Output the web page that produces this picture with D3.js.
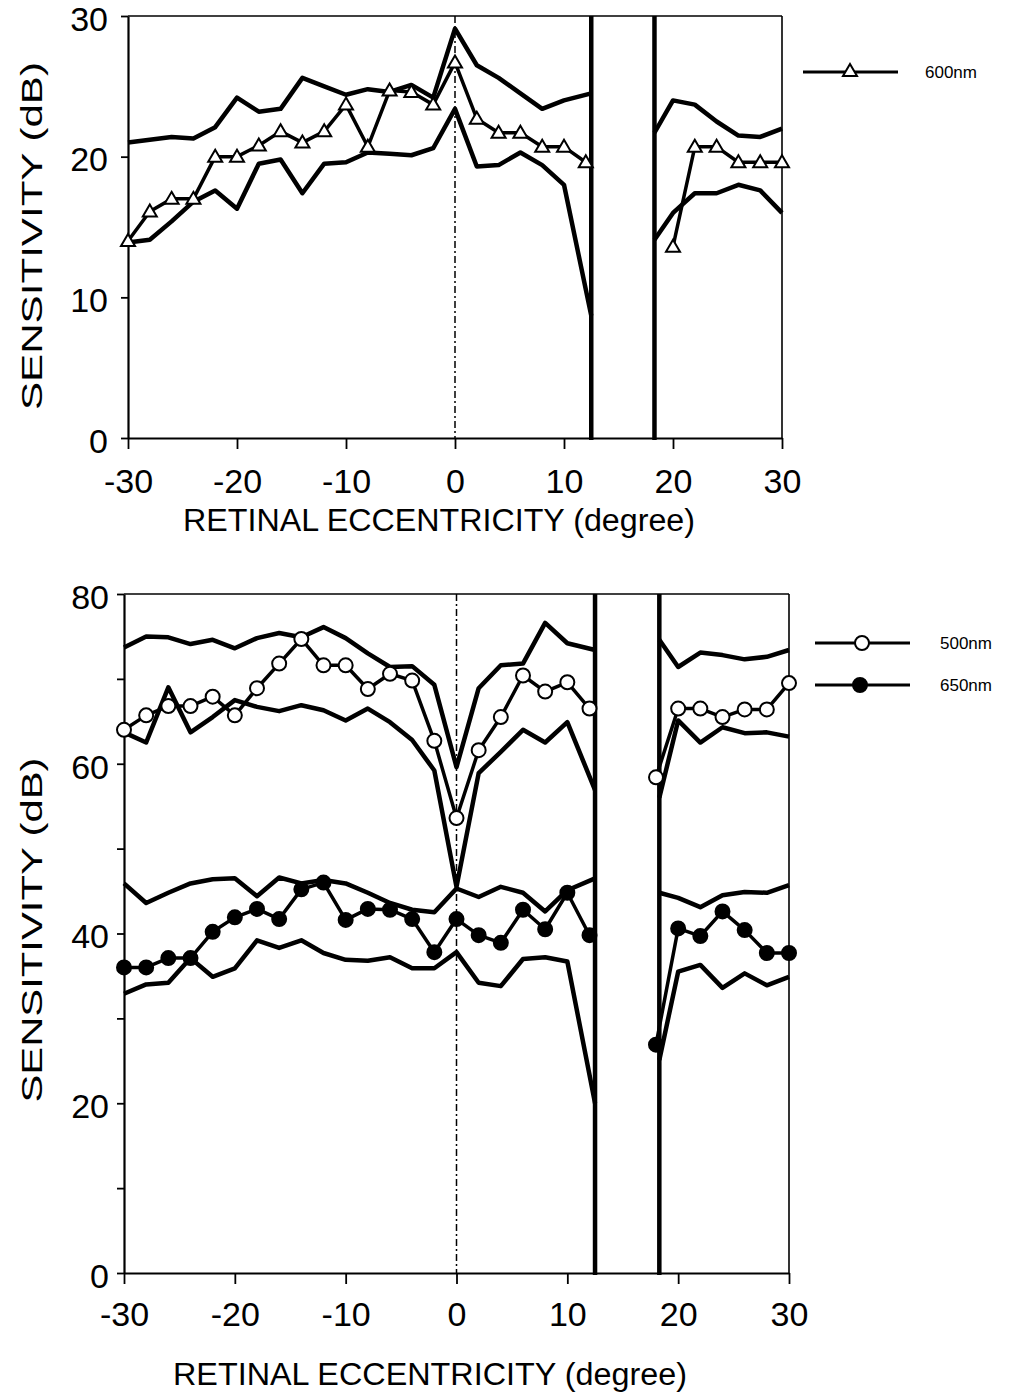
<!DOCTYPE html>
<html>
<head>
<meta charset="utf-8">
<script src="https://cdn.jsdelivr.net/npm/d3@7"></script>
<style>
  html, body { margin: 0; padding: 0; background: #fff; }
  svg { display: block; }
  text { font-family: "Liberation Sans", Arial, sans-serif; fill: #000; }
</style>
</head>
<body>
<svg id="chart" width="1013" height="1395"></svg>
<script>
// ---------------- DATA ----------------
const xTicks = [-30, -20, -10, 0, 10, 20, 30];
const xTickLabels = ["-30", "-20", "-10", "0", "10", "20", "30"];
const topYTicks = [0, 10, 20, 30];
const botYTicks = [0, 10, 20, 30, 40, 50, 60, 70, 80];
const botYLabels = [0, 20, 40, 60, 80];
const blindSpot = [12.5, 18.3];

// envelope x positions (left / right of blind spot)
const envXLeft = [-30,-28,-26,-24,-22,-20,-18,-16,-14,-12,-10,-8,-6,-4,-2,0,2,4,6,8,10,12.5];
const envXRight = [18.3,20,22,24,26,28,30];
// measured point x positions
const ptXLeft = [-30,-28,-26,-24,-22,-20,-18,-16,-14,-12,-10,-8,-6,-4,-2,0,2,4,6,8,10,12];
const ptXRight600 = [20,22,24,26,28,30];
const ptXRight = [18,20,22,24,26,28,30];

// Top panel: 600nm
const top600UpperL = [21,21.2,21.4,21.3,22.1,24.2,23.2,23.4,25.6,25,24.4,24.8,24.6,25.1,24.2,29.1,26.5,25.6,24.5,23.4,24,24.5];
const top600LowerL = [13.9,14.1,15.4,16.8,17.6,16.3,19.5,19.8,17.4,19.5,19.6,20.3,20.2,20.1,20.6,23.4,19.3,19.4,20.3,19.4,18,8.7];
const top600UpperR = [21.7,24,23.7,22.5,21.5,21.4,22];
const top600LowerR = [14.1,16,17.4,17.4,18,17.6,16];
const top600PtsL = [14,16.1,17,17,20,20,20.8,21.8,21,21.8,23.7,20.7,24.7,24.6,23.7,26.7,22.7,21.7,21.7,20.7,20.7,19.6];
const top600PtsR = [13.6,20.7,20.7,19.6,19.6,19.6];

// Bottom panel: 500nm
const b500UpperL = [73.7,75,74.9,74.1,74.6,73.6,74.8,75.4,74.9,76.1,74.8,73,71.4,71.5,69.3,59.6,68.9,71.6,71.8,76.6,74.2,73.4];
const b500LowerL = [63.7,62.5,69,63.7,65.5,67.5,66.7,66.2,66.9,66.3,65.1,66.5,64.9,62.8,59.2,45.5,58.9,61.4,64,62.5,64.9,56.9];
const b500UpperR = [74.6,71.4,73.1,72.8,72.3,72.6,73.4];
const b500LowerR = [56,65.1,62.5,64.3,63.6,63.7,63.2];
const b500PtsL = [64,65.7,66.8,66.8,67.9,65.7,68.9,71.8,74.7,71.6,71.6,68.8,70.6,69.8,62.7,53.6,61.6,65.5,70.4,68.5,69.6,66.5];
const b500PtsR = [58.4,66.5,66.5,65.5,66.4,66.4,69.5];

// Bottom panel: 650nm
const b650UpperL = [45.9,43.6,44.8,45.9,46.4,46.5,44.4,46.6,45.9,46.3,45.9,44.8,43.6,42.8,42.5,45.3,44.3,45.5,44.8,42.6,45.1,46.5];
const b650LowerL = [32.9,34,34.2,37.1,34.9,35.9,39.2,38.3,39.2,37.7,36.9,36.8,37.2,35.9,35.9,37.8,34.2,33.8,37,37.2,36.7,20];
const b650UpperR = [44.8,44.2,43.1,44.5,44.9,44.8,45.7];
const b650LowerR = [25.1,35.5,36.3,33.6,35.3,33.9,34.9];
const b650PtsL = [36,36,37.1,37.1,40.2,41.9,42.9,41.7,45.2,46,41.6,42.9,42.8,41.7,37.8,41.7,39.8,38.9,42.8,40.5,44.8,39.8];
const b650PtsR = [26.9,40.6,39.7,42.6,40.4,37.7,37.7];

const xTitle = "RETINAL ECCENTRICITY (degree)";
const yTitle = "SENSITIVITY (dB)";

// ---------------- DRAW ----------------
const svg = d3.select("#chart");
const zip = (xs, ys) => xs.map((x, i) => [x, ys[i]]);

function triangle(g, cx, cy) {
  g.append("path")
    .attr("d", `M${cx},${cy-7} L${cx+7},${cy+5} L${cx-7},${cy+5} Z`)
    .attr("fill", "#fff").attr("stroke", "#000").attr("stroke-width", 2);
}
function circle(g, cx, cy, filled) {
  g.append("circle").attr("cx", cx).attr("cy", cy).attr("r", 7)
    .attr("fill", filled ? "#000" : "#fff").attr("stroke", "#000").attr("stroke-width", 2);
}

function panel(cfg) {
  const x = d3.scaleLinear().domain([-30, 30]).range([cfg.x0, cfg.x1]);
  const y = d3.scaleLinear().domain(cfg.yDomain).range([cfg.y0, cfg.y1]);
  const g = svg.append("g");
  const line = d3.line().x(d => x(d[0])).y(d => y(d[1]));

  // frame (top + right)
  g.append("line").attr("x1", cfg.x0).attr("x2", cfg.x1).attr("y1", cfg.y1).attr("y2", cfg.y1)
    .attr("stroke", "#000").attr("stroke-width", 1.6);
  g.append("line").attr("x1", cfg.x1).attr("x2", cfg.x1).attr("y1", cfg.y1).attr("y2", cfg.y0)
    .attr("stroke", "#000").attr("stroke-width", 1.6);

  // dash-dot line at 0
  g.append("line").attr("x1", x(0)).attr("x2", x(0)).attr("y1", cfg.y1).attr("y2", cfg.y0)
    .attr("stroke", "#000").attr("stroke-width", 1.5).attr("stroke-dasharray", "7,3,2,3");

  // blind spot bars
  blindSpot.forEach(v => {
    g.append("line").attr("x1", x(v)).attr("x2", x(v)).attr("y1", cfg.y1).attr("y2", cfg.y0 + 2)
      .attr("stroke", "#000").attr("stroke-width", 4.5);
  });

  // axes
  const yAxis = d3.axisLeft(y).tickValues(cfg.yTicks).tickSize(7).tickSizeOuter(0).tickPadding(cfg.yPad)
    .tickFormat(d => cfg.yLabels.includes(d) ? String(d) : "");
  const ga = g.append("g").attr("transform", `translate(${cfg.x0},0)`).call(yAxis);
  ga.select(".domain").attr("stroke-width", 2.2);
  ga.selectAll(".tick line").attr("stroke-width", 1.8);
  ga.selectAll("text").attr("font-size", 34).attr("font-family", "Liberation Sans, Arial, sans-serif")
    .attr("dy", "0.42em");

  const xAxis = d3.axisBottom(x).tickValues(xTicks).tickSize(11).tickSizeOuter(0).tickPadding(0)
    .tickFormat((d, i) => xTickLabels[i]);
  const gx = g.append("g").attr("transform", `translate(0,${cfg.y0})`).call(xAxis);
  gx.select(".domain").attr("stroke-width", 2.2);
  gx.selectAll(".tick line").attr("stroke-width", 1.8);
  gx.selectAll("text").attr("font-size", 34).attr("font-family", "Liberation Sans, Arial, sans-serif")
    .attr("y", cfg.xLabelBase).attr("dy", 0);

  // titles
  g.append("text").attr("x", cfg.xTitleX).attr("y", cfg.xTitleY).attr("text-anchor", "middle")
    .attr("font-size", 31).attr("textLength", cfg.xTitleLen).attr("lengthAdjust", "spacingAndGlyphs")
    .text(xTitle);
  g.append("text").attr("transform", `translate(${cfg.yTitleX},${cfg.yTitleY}) rotate(-90)`)
    .attr("text-anchor", "middle").attr("font-size", 30)
    .attr("textLength", cfg.yTitleLen).attr("lengthAdjust", "spacingAndGlyphs")
    .text(yTitle);

  return { x, y, g, line };
}

function drawSeries(p, envs, ptsL, ptsR, pxL, pxR, marker) {
  envs.forEach(([xs, ys]) => {
    p.g.append("path").datum(zip(xs, ys)).attr("d", p.line)
      .attr("fill", "none").attr("stroke", "#000").attr("stroke-width", 4.5).attr("stroke-linejoin", "round");
  });
  [[pxL, ptsL], [pxR, ptsR]].forEach(([xs, ys]) => {
    const data = zip(xs, ys);
    p.g.append("path").datum(data).attr("d", p.line)
      .attr("fill", "none").attr("stroke", "#000").attr("stroke-width", 3.5).attr("stroke-linejoin", "round");
    data.forEach(d => marker(p.g, p.x(d[0]), p.y(d[1])));
  });
}

// Top panel
const pTop = panel({
  x0: 128, x1: 782, y0: 438, y1: 16, yDomain: [0, 30],
  yTicks: topYTicks, yLabels: topYTicks, yPad: 13,
  xLabelBase: 55, xTitleX: 439, xTitleY: 531, xTitleLen: 512,
  yTitleX: 42, yTitleY: 236, yTitleLen: 348
});
drawSeries(pTop,
  [[envXLeft, top600UpperL], [envXLeft, top600LowerL], [envXRight, top600UpperR], [envXRight, top600LowerR]],
  top600PtsL, top600PtsR, ptXLeft, ptXRight600, (g, cx, cy) => triangle(g, cx, cy));

// Bottom panel
const pBot = panel({
  x0: 124, x1: 789, y0: 1273, y1: 594, yDomain: [0, 80],
  yTicks: botYTicks, yLabels: botYLabels, yPad: 8,
  xLabelBase: 53, xTitleX: 430, xTitleY: 1385, xTitleLen: 514,
  yTitleX: 42, yTitleY: 930, yTitleLen: 345
});
drawSeries(pBot,
  [[envXLeft, b500UpperL], [envXLeft, b500LowerL], [envXRight, b500UpperR], [envXRight, b500LowerR]],
  b500PtsL, b500PtsR, ptXLeft, ptXRight, (g, cx, cy) => circle(g, cx, cy, false));
drawSeries(pBot,
  [[envXLeft, b650UpperL], [envXLeft, b650LowerL], [envXRight, b650UpperR], [envXRight, b650LowerR]],
  b650PtsL, b650PtsR, ptXLeft, ptXRight, (g, cx, cy) => circle(g, cx, cy, true));

// Legends
const legend = svg.append("g");
const legendItems = [
  { label: "600nm", y: 72, x1: 803, x2: 898, mx: 850, kind: "tri" },
  { label: "500nm", y: 643, x1: 815, x2: 910, mx: 862, kind: "open" },
  { label: "650nm", y: 685, x1: 815, x2: 910, mx: 860, kind: "filled" }
];
legendItems.forEach(it => {
  legend.append("line").attr("x1", it.x1).attr("x2", it.x2).attr("y1", it.y).attr("y2", it.y)
    .attr("stroke", "#000").attr("stroke-width", 3);
  if (it.kind === "tri") triangle(legend, it.mx, it.y - 1);
  else circle(legend, it.mx, it.y, it.kind === "filled");
  legend.append("text").attr("x", it.kind === "tri" ? 925 : 940).attr("y", it.y + 6)
    .attr("font-size", 17).text(it.label);
});
</script>
</body>
</html>
